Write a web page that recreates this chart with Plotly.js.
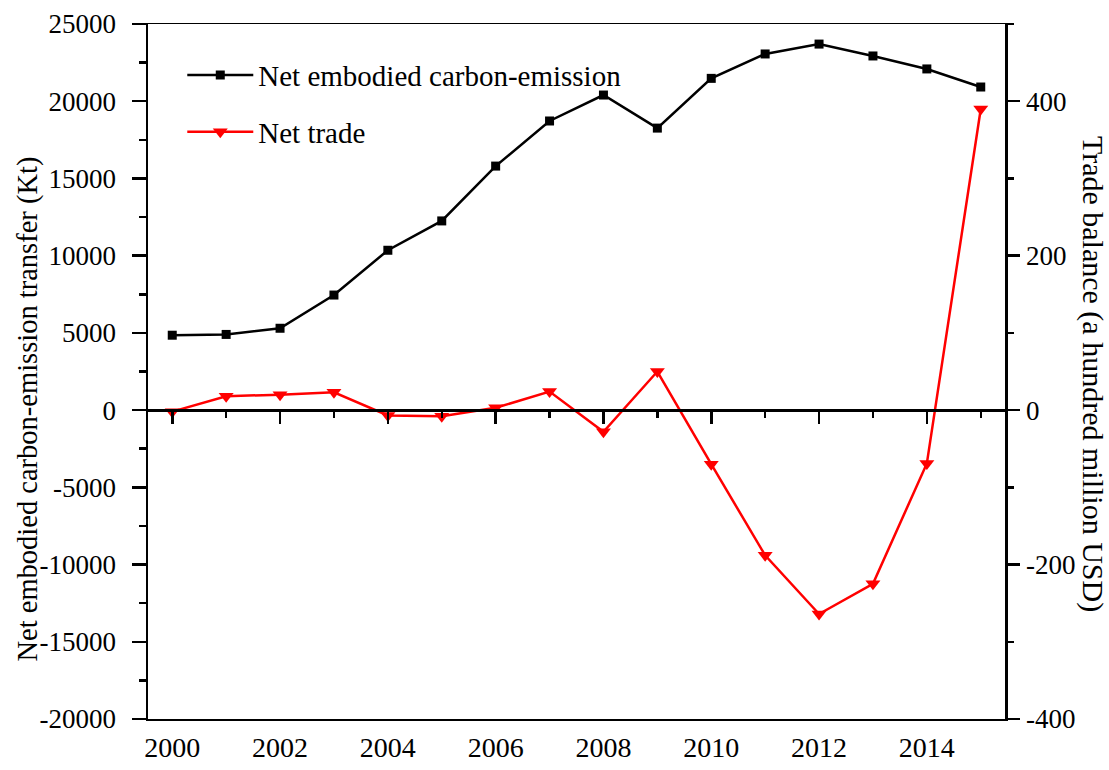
<!DOCTYPE html>
<html>
<head>
<meta charset="utf-8">
<script src="https://cdn.plot.ly/plotly-3.0.1.min.js"></script>
<style>html,body{margin:0;padding:0;background:#fff;}#chart{width:1109px;height:770px;}</style>
</head>
<body>
<div id="chart"></div>
<script>
const years = [2000,2001,2002,2003,2004,2005,2006,2007,2008,2009,2010,2011,2012,2013,2014,2015];
const netCarbon = [4850,4900,5300,7450,10350,12250,15800,18720,20400,18260,21480,23060,23700,22930,22090,20920];
const netTrade = [-2,18,20,23,-7,-8,3,24,-28,50,-70,-188,-264,-225,-69,390];
const leftTicks = [-20000,-15000,-10000,-5000,0,5000,10000,15000,20000,25000];
const rightTicks = [-400,-200,0,200,400];
const xTicks = [2000,2002,2004,2006,2008,2010,2012,2014];

const F = 'Liberation Serif';
const FT = 27;   // tick labels
const FL = 29;   // titles / legend

const traces = [
  {x: years, y: netCarbon, name: 'Net embodied carbon-emission', type: 'scatter', mode: 'lines+markers',
   line: {color: '#000', width: 2.5}, marker: {symbol: 'square', size: 9, color: '#000'},
   xaxis: 'x', yaxis: 'y', legendgroup: 'a'},
  {x: years, y: netTrade, name: 'Net trade', type: 'scatter', mode: 'lines+markers',
   line: {color: '#ff0000', width: 2.5}, marker: {symbol: 'triangle-down', size: 13, color: '#ff0000'},
   xaxis: 'x', yaxis: 'y2', legendgroup: 'b'}
];

const layout = {
  width: 1109, height: 770,
  margin: {l: 148, r: 104, t: 24, b: 51},
  paper_bgcolor: '#fff', plot_bgcolor: '#fff',
  font: {family: F, size: FL, color: '#000'},
  showlegend: true,
  legend: {x: 0.04, y: 0.963, xanchor: 'left', yanchor: 'top', bgcolor: 'rgba(0,0,0,0)',
    font: {family: F, size: FL, color: '#000'}, tracegroupgap: 16, traceorder: 'grouped', itemwidth: 66},
  xaxis: {
    range: [1999.55, 2015.45], tickvals: xTicks, ticktext: xTicks.map(String),
    showgrid: false, zeroline: false, showline: true, linecolor: '#000', linewidth: 1.5,
    mirror: true, ticks: '', tickfont: {family: F, size: 28, color: '#000'}, ticklabelstandoff: 3
  },
  xaxis2: {
    range: [1999.55, 2015.45], overlaying: 'x', anchor: 'free', position: 20000/45000,
    showgrid: false, zeroline: false, showline: true, linecolor: '#000', linewidth: 2.5,
    ticks: 'outside', tickvals: xTicks, ticklen: 12, tickwidth: 2.5, tickcolor: '#000', showticklabels: false,
    minor: {dtick: 1, tick0: 2001, ticklen: 6, tickwidth: 2.5, tickcolor: '#000', ticks: 'outside', showgrid: false}
  },
  yaxis: {
    range: [-20000, 25000], tickvals: leftTicks, ticktext: leftTicks.map(String),
    showgrid: false, zeroline: false, showline: true, linecolor: '#000', linewidth: 2.5,
    ticks: 'outside', ticklen: 14, tickwidth: 2.5, tickcolor: '#000',
    minor: {dtick: 2500, tick0: 2500, ticklen: 7, tickwidth: 2.5, tickcolor: '#000', ticks: 'outside', showgrid: false},
    tickfont: {family: F, size: FT, color: '#000'}, ticklabelstandoff: 10
  },
  yaxis2: {
    range: [-400, 500], overlaying: 'y', side: 'right', anchor: 'x',
    tickvals: rightTicks, ticktext: rightTicks.map(String),
    showgrid: false, zeroline: false, showline: true, linecolor: '#000', linewidth: 2.5,
    ticks: 'outside', ticklen: 12, tickwidth: 2.5, tickcolor: '#000',
    minor: {dtick: 100, tick0: 100, ticklen: 6, tickwidth: 2.5, tickcolor: '#000', ticks: 'outside', showgrid: false},
    tickfont: {family: F, size: FT, color: '#000'}, ticklabelstandoff: 1
  },
  annotations: [{
    text: 'Net embodied carbon-emission transfer (Kt)', xref: 'paper', yref: 'paper',
    x: -0.1395, y: 0.446, xanchor: 'center', yanchor: 'middle', textangle: -90, showarrow: false,
    font: {family: F, size: 28.5, color: '#000'}
  }, {
    text: 'Trade balance (a hundred million USD)', xref: 'paper', yref: 'paper',
    x: 1.1035, y: 0.497, xanchor: 'center', yanchor: 'middle', textangle: 90, showarrow: false,
    font: {family: F, size: 30, color: '#000'}
  }]
};

traces.push({x: [2000], y: [0], xaxis: 'x2', yaxis: 'y', mode: 'markers', marker: {opacity: 0}, showlegend: false, hoverinfo: 'skip'});

Plotly.newPlot('chart', traces, layout, {displayModeBar: false, staticPlot: true});
</script>
</body>
</html>
